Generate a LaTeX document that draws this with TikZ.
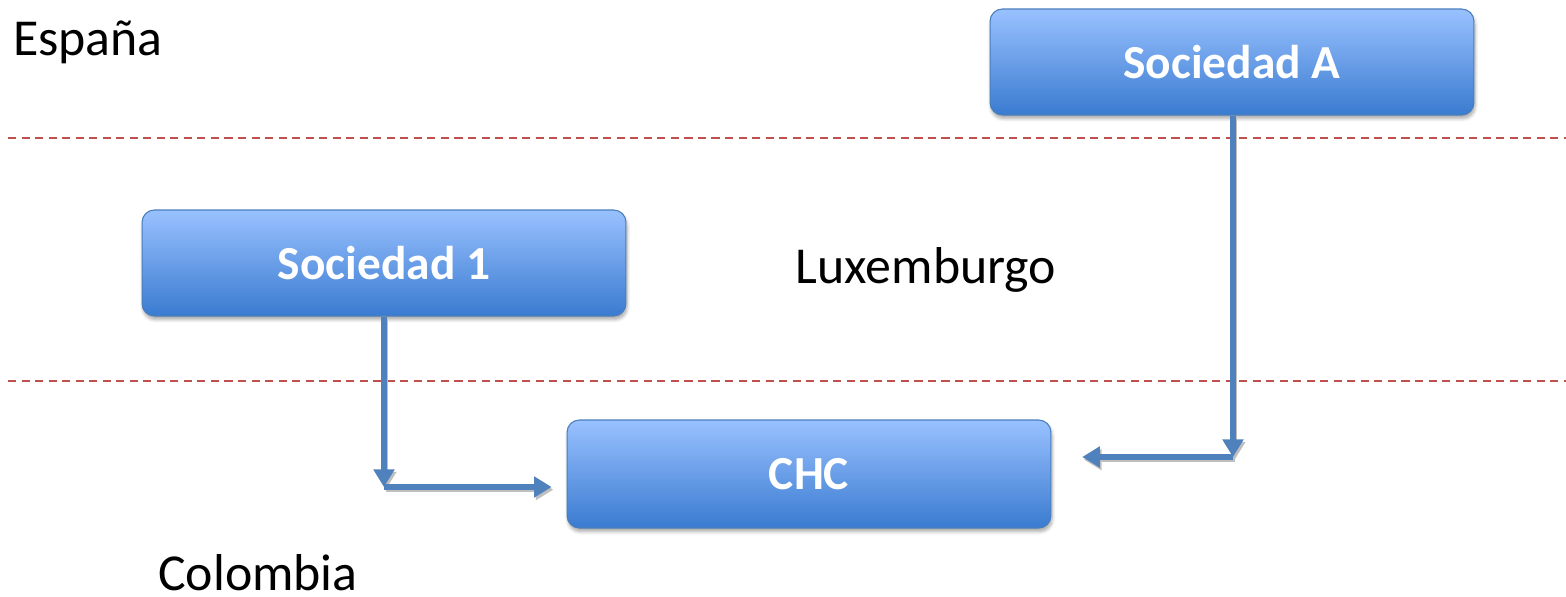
\documentclass[tikz,border=0pt]{standalone}
\usepackage{fontspec}
\setmainfont{Carlito}
\usetikzlibrary{arrows.meta,shadows.blur,calc}
\definecolor{boxtop}{HTML}{99C1FF}
\definecolor{boxbot}{HTML}{3A7BD0}
\definecolor{boxline}{HTML}{4A7EBB}
\definecolor{flow}{HTML}{4F81BD}
\definecolor{border}{HTML}{C0504D}
\tikzset{
  entity/.style={rounded corners=7pt, draw=boxline, line width=0.6pt,
    top color=boxtop, bottom color=boxbot, minimum width=9.68cm,
    minimum height=2.12cm, inner sep=0pt, text=white,
    font=\fontsize{27}{32}\selectfont\bfseries,
    blur shadow={shadow xshift=0.6pt, shadow yshift=-2pt, shadow blur steps=6, shadow opacity=35}},
  country/.style={font=\fontsize{29.5}{35}\selectfont, text=black, inner sep=0pt},
  flowshadow/.style={draw=black!25, line width=3pt, -{Triangle[length=10pt,width=11.5pt]}},
  flowline/.style={draw=flow, line width=2.9pt, -{Triangle[length=10pt,width=11.5pt]}},
  frontier/.style={draw=border, line width=0.8pt, dash pattern=on 4.6pt off 3.1pt}
}
\begin{document}
\begin{tikzpicture}[x=0.02cm,y=-0.02cm]
\useasboundingbox (0,0) rectangle (1566,597);
% borders between countries
\coordinate (f1a) at (8,138);  \coordinate (f1b) at (1566,138);
\coordinate (f2a) at (8,381);  \coordinate (f2b) at (1566,381);
\draw[frontier] (f1a) -- (f1b);
\draw[frontier] (f2a) -- (f2b);
% country labels
\node[country] (es) at (88,42) {España};
\node[country] (lu) at (926,270) {Luxemburgo};
\node[country, anchor=base, text depth=0pt] (co) at (258,591) {Colombia};
% companies
\node[entity] (sa) at (1232,62) {Sociedad A};
\node[entity] (s1) at (384,263) {Sociedad 1};
\node[entity, minimum height=2.16cm] (chc) at (809,474) {CHC};
% ownership flows
\coordinate (k1) at (384,487);
\coordinate (k2) at (1233,457);
\begin{scope}[transform canvas={xshift=1pt, yshift=-1.5pt}]
  \draw[flowshadow] (s1.south) -- (k1);
  \draw[flowshadow, shorten >=8.5pt] (k1) -- (k1 -| chc.west);
  \draw[flowshadow] (sa.south -| k2) -- (k2);
  \draw[flowshadow, shorten >=17.5pt] (k2) -- (k2 -| chc.east);
\end{scope}
\draw[flowline] (s1.south) -- (k1);
\draw[flowline, shorten >=8.5pt] (k1) -- (k1 -| chc.west);
\draw[flowline] (sa.south -| k2) -- (k2);
\draw[flowline, shorten >=17.5pt] (k2) -- (k2 -| chc.east);
\end{tikzpicture}
\end{document}
